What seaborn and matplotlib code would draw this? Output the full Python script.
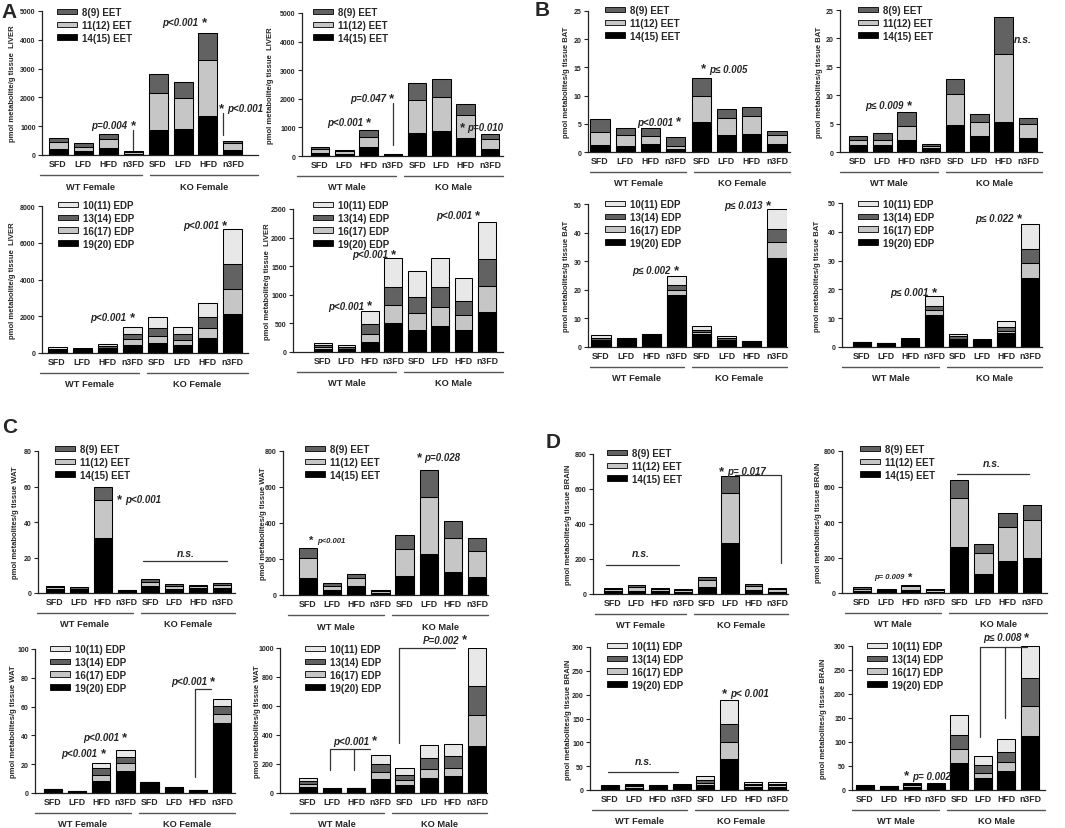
import numpy as np
import matplotlib
matplotlib.use("Agg")
import matplotlib.pyplot as plt
from matplotlib.patches import Patch
from matplotlib.lines import Line2D
import seaborn as sns

sns.set_style("ticks")
plt.rcParams["font.family"] = ["Liberation Sans", "DejaVu Sans"]
plt.rcParams["font.weight"] = "bold"

W, H = 1065, 829

# categories
diets = ["SFD", "LFD", "HFD", "n3FD"]
bar_keys = [f"{g} {d}" for g in ("WT", "KO") for d in diets]
tick_labels = diets * 2

eet_names = ["14(15) EET", "11(12) EET", "8(9) EET"]          # bottom -> top
edp_names = ["19(20) EDP", "16(17) EDP", "13(14) EDP", "10(11) EDP"]
eet_colors = ["#000000", "#c6c6c6", "#626262"]
edp_colors = ["#000000", "#c6c6c6", "#626262", "#e8e8e8"]

# values, order: WT SFD LFD HFD n3FD, KO SFD LFD HFD n3FD
# rows follow the stacking order (bottom -> top)
liver_f_eet = [[200, 150, 250, 40, 870, 890, 1350, 190],
               [250, 130, 300, 60, 1280, 1100, 1950, 210],
               [150, 120, 180, 30, 650, 530, 950, 100]]
liver_m_eet = [[110, 80, 300, 50, 820, 870, 620, 260],
               [120, 90, 380, 20, 1140, 1210, 800, 340],
               [70, 50, 220, 10, 590, 620, 410, 180]]
liver_f_edp = [[130, 120, 200, 450, 550, 450, 800, 2130],
               [50, 50, 80, 310, 400, 280, 550, 1370],
               [60, 60, 100, 280, 400, 310, 600, 1350],
               [60, 60, 110, 400, 600, 400, 750, 1910]]
liver_m_edp = [[50, 30, 180, 500, 385, 455, 385, 705],
               [30, 30, 140, 320, 305, 340, 255, 455],
               [40, 30, 165, 325, 280, 335, 255, 465],
               [30, 27, 225, 495, 445, 505, 390, 645]]

bat_f_eet = [[1.3, 1.05, 1.45, 0.6, 5.35, 3.0, 3.25, 1.5],
             [2.2, 2.05, 1.35, 0.45, 4.55, 3.0, 3.2, 1.5],
             [2.4, 1.2, 1.5, 1.65, 3.2, 1.55, 1.45, 0.65]]
bat_m_eet = [[1.3, 1.15, 2.05, 0.7, 4.75, 2.9, 5.3, 2.45],
             [0.75, 1.05, 2.45, 0.3, 5.5, 2.35, 11.95, 2.45],
             [0.7, 1.1, 2.6, 0.35, 2.65, 1.45, 6.45, 1.1]]
bat_f_edp = [[2.0, 2.8, 4.0, 18.3, 4.5, 2.2, 1.9, 31.2],
             [0.6, 0.1, 0.2, 1.8, 0.8, 0.4, 0.1, 5.6],
             [0.6, 0.1, 0.2, 1.7, 0.8, 0.5, 0.1, 4.5],
             [1.0, 0.1, 0.2, 2.9, 1.3, 0.7, 0.1, 7.1]]
bat_m_edp = [[1.6, 1.3, 2.2, 11.2, 2.3, 1.8, 4.8, 23.9],
             [0.05, 0.05, 0.3, 1.7, 0.6, 0.3, 0.9, 5.1],
             [0.05, 0.05, 0.3, 1.5, 0.8, 0.5, 1.3, 5.0],
             [0.05, 0.05, 0.3, 3.3, 0.9, 0.3, 2.2, 8.7]]

wat_f_eet = [[2.2, 1.7, 30.9, 1.6, 4.1, 2.5, 2.6, 2.9],
             [1.1, 0.8, 21.3, 0.2, 2.3, 1.4, 1.2, 1.4],
             [0.8, 0.7, 7.5, 0.1, 1.7, 1.2, 0.9, 1.1]]
wat_m_eet = [[95, 28, 50, 12, 108, 228, 130, 102],
             [113, 24, 45, 10, 150, 317, 187, 145],
             [52, 13, 22, 6, 74, 151, 93, 72]]
wat_f_edp = [[2.5, 1.3, 8.6, 15.5, 7.5, 3.7, 2.0, 48.5],
             [0.1, 0.1, 4.2, 5.1, 0.1, 0.1, 0.05, 6.5],
             [0.1, 0.05, 4.4, 4.7, 0.05, 0.05, 0.03, 5.1],
             [0.1, 0.05, 3.9, 4.4, 0.05, 0.05, 0.02, 5.3]]
wat_m_edp = [[39, 30, 33, 99, 53, 104, 115, 325],
             [23, 1, 1, 48, 37, 64, 58, 210],
             [23, 0.5, 0.5, 53, 34, 72, 80, 205],
             [16, 0.5, 0.5, 63, 46, 94, 88, 260]]

brain_f_eet = [[15, 20, 15, 12, 40, 292, 24, 13],
               [12, 19, 14, 10, 40, 285, 22, 13],
               [7, 10, 7, 6, 20, 98, 13, 6]]
brain_m_eet = [[13, 10, 19, 8, 260, 105, 182, 200],
               [12, 9, 18, 8, 274, 118, 191, 210],
               [7, 5, 10, 5, 105, 52, 78, 83]]
brain_f_edp = [[7.5, 5.0, 8.5, 6.0, 10.5, 64, 7, 7],
               [1.0, 2.5, 0.5, 2.5, 4.2, 36.5, 3, 3],
               [0.8, 2.5, 0.5, 2.5, 6.3, 37, 3.5, 3.5],
               [0.5, 1.9, 0.3, 1.6, 9.0, 50.5, 3.2, 3.2]]
brain_m_edp = [[8.5, 7.0, 7.0, 7.5, 56, 24, 39, 113],
               [0.5, 0.3, 2.5, 2.5, 29, 12, 19, 63],
               [0.5, 0.2, 3.0, 3.0, 30, 16, 22, 57],
               [0.3, 0.2, 2.2, 2.4, 41, 18, 27, 67]]

LE = "\u2264"

# layout in pixels: axis-left, group-line-left, group-mid, group-line-right,
# first bar, last bar, axis top, axis bottom, ylabel x, legend x, legend first row y
panels = [
    # ---- A (liver)
    dict(data=liver_f_eet, ylab="pmol metabolite/g tissue  LIVER", ymax=5000, step=1000, sex="Female",
         box=(42, 40, 146, 258, 58, 233, 12, 156, 12, 57, 14),
         notes=[("p", 3.0, 1050, "p=0.004", "L", 7), ("line", [3, 3], [180, 860]),
                ("p", 5.85, 4620, "p<0.001", "L", 7), ("line", [6.6, 6.6], [680, 1450]),
                ("p", 6.55, 1620, "p<0.001", "R", 7)]),
    dict(data=liver_m_eet, ylab="pmol metabolite/g tissue  LIVER", ymax=5000, step=1000, sex="Male",
         box=(302, 297, 400, 503, 320, 490, 14, 157, 270, 313, 14),
         notes=[("p", 2.0, 1200, "p<0.001", "L", 7), ("p", 2.95, 2020, "p=0.047", "L", 7),
                ("line", [3, 3], [380, 1840]), ("p", 5.85, 1000, "p=0.010", "R", 7)]),
    dict(data=liver_f_edp, ylab="pmol metabolite/g tissue  LIVER", ymax=8000, step=2000, sex="Female",
         box=(42, 40, 143, 248, 57, 232, 207, 354, 12, 58, 207),
         notes=[("p", 3.0, 1950, "p<0.001", "L", 7), ("p", 6.7, 6950, "p<0.001", "L", 7)]),
    dict(data=liver_m_edp, ylab="pmol metabolite/g tissue  LIVER", ymax=2500, step=500, sex="Male",
         box=(293, 297, 400, 503, 323, 487, 210, 353, 267, 313, 207),
         notes=[("p", 2.0, 810, "p<0.001", "L", 7), ("p", 3.0, 1713, "p<0.001", "L", 7),
                ("p", 6.6, 2398, "p<0.001", "L", 7)]),
    # ---- B (BAT)
    dict(data=bat_f_eet, ylab="pmol metabolites/g tissue BAT", ymax=25, step=5, sex="Female",
         box=(588, 590, 690, 790, 600, 777, 12, 153, 566, 605, 12),
         notes=[("p", 3.1, 5.4, "p<0.001", "L", 7), ("p", 4.1, 14.8, "p" + LE + " 0.005", "R", 7)]),
    dict(data=bat_m_eet, ylab="pmol metabolites/g tissue BAT", ymax=25, step=5, sex="Male",
         box=(840, 840, 942, 1042, 858, 1028, 11, 153, 819, 858, 12),
         notes=[("p", 2.1, 8.2, "p" + LE + " 0.009", "L", 7), ("ns", 6.8, 19.9)]),
    dict(data=bat_f_edp, ylab="pmol metabolites/g tissue BAT", ymax=50, step=10, sex="Female",
         box=(588, 590, 688, 787, 601, 777, 205, 348, 566, 605, 206),
         notes=[("p", 3.0, 27, "p" + LE + " 0.002", "L", 7), ("p", 6.65, 49.5, "p" + LE + " 0.013", "L", 7)]),
    dict(data=bat_m_edp, ylab="pmol metabolites/g tissue BAT", ymax=50, step=10, sex="Male",
         box=(842, 842, 943, 1042, 862, 1030, 204, 348, 817, 858, 206),
         notes=[("p", 3.0, 19.0, "p" + LE + " 0.001", "L", 7), ("p", 6.55, 44.7, "p" + LE + " 0.022", "L", 7)]),
    # ---- C (WAT)
    dict(data=wat_f_eet, ylab="pmol metabolites/g tissue WAT", ymax=80, step=20, sex="Female",
         box=(38, 37, 137, 235, 55, 222, 452, 594, 15, 55, 451),
         notes=[("p", 2.7, 53, "p<0.001", "R", 7), ("ns", 5.5, 22.8),
                ("line", [3.7, 7.2], [18.2, 18.2])]),
    dict(data=wat_m_eet, ylab="pmol metabolites/g tissue WAT", ymax=800, step=200, sex="Male",
         box=(283, 288, 388, 488, 308, 477, 452, 596, 263, 305, 451),
         notes=[("p", 0.14, 305, "p<0.001", "R", 5.5), ("p", 4.6, 765, "p=0.028", "R", 7)]),
    dict(data=wat_f_edp, ylab="pmol metabolites/g tissue WAT", ymax=100, step=20, sex="Female",
         box=(35, 35, 135, 235, 53, 222, 650, 794, 13, 50, 651),
         notes=[("p", 2.08, 27.6, "p<0.001", "L", 7), ("p", 2.96, 38.7, "p<0.001", "L", 7),
                ("p", 6.6, 78, "p<0.001", "L", 7),
                ("line", [5.9, 5.9, 6.53], [11, 72.4, 72.4])]),
    dict(data=wat_m_edp, ylab="pmol metabolites/g tissue WAT", ymax=1000, step=200, sex="Male",
         box=(280, 290, 388, 487, 308, 477, 649, 794, 257, 305, 651),
         notes=[("line", [0.9, 0.9, 2.57], [159, 304, 304]), ("line", [1.9, 1.9], [159, 304]),
                ("p", 2.75, 362, "p<0.001", "L", 7),
                ("line", [3.75, 3.75, 6.1], [343, 1000, 1000]),
                ("p", 6.5, 1058, "P=0.002", "L", 7)]),
    # ---- D (brain)
    dict(data=brain_f_eet, ylab="pmol metabolites/g tissue BRAIN", ymax=800, step=200, sex="Female",
         box=(593, 595, 690, 788, 613, 777, 455, 595, 568, 607, 455),
         notes=[("ns", 1.2, 237), ("line", [-0.3, 2.8], [167, 167]),
                ("p", 4.64, 700, "p= 0.017", "R", 7),
                ("line", [5.2, 7.15, 7.15], [679, 679, 180])]),
    dict(data=brain_m_eet, ylab="pmol metabolites/g tissue BRAIN", ymax=800, step=200, sex="Male",
         box=(842, 845, 945, 1047, 862, 1032, 452, 594, 818, 860, 451),
         notes=[("p", 2.0, 92, "p= 0.009", "L", 5.5), ("ns", 5.35, 734),
                ("line", [3.9, 6.86], [668, 668])]),
    dict(data=brain_f_edp, ylab="pmol metabolites/g tissue BRAIN", ymax=300, step=50, sex="Female",
         box=(590, 592, 691, 788, 610, 777, 648, 791, 568, 607, 648),
         notes=[("ns", 1.4, 60.7), ("line", [-0.07, 2.87], [38, 38]),
                ("p", 4.8, 203, "p< 0.001", "R", 7)]),
    dict(data=brain_m_edp, ylab="pmol metabolites/g tissue BRAIN", ymax=300, step=50, sex="Male",
         box=(852, 852, 943, 1045, 865, 1030, 647, 791, 823, 867, 648),
         notes=[("p", 1.77, 30, "p= 0.002", "R", 7),
                ("line", [4.88, 4.88, 6.86], [111, 298, 298]), ("line", [5.94, 5.94], [150, 298]),
                ("p", 6.86, 318, "p" + LE + " 0.008", "L", 7)]),
]

fig = plt.figure(figsize=(W / 100, H / 100), dpi=100)


def fx(px):
    return px / W


def fy(py):
    return 1 - py / H


for p in panels:
    axl, gl, mid, gr, x0, x7, top, bot, ylx, lgx, lgy = p["box"]
    ax = fig.add_axes([fx(axl), fy(bot), fx(gr - axl), (bot - top) / H])
    rows = np.array(p["data"], dtype=float)
    n = rows.shape[0]
    names = eet_names if n == 3 else edp_names
    colors = eet_colors if n == 3 else edp_colors
    cum = np.cumsum(rows, axis=0)

    # stacked bars: draw cumulative heights from the top layer down
    for lev in reversed(range(n)):
        sns.barplot(x=bar_keys, y=cum[lev], order=bar_keys, color=colors[lev],
                    saturation=1, edgecolor="black", linewidth=0.75, width=0.76,
                    errorbar=None, ax=ax)

    unit = (x7 - x0) / 7
    ax.set_xlim(-(x0 - axl) / unit, 7 + (gr - x7) / unit)
    ax.set_ylim(0, p["ymax"])
    ax.set_yticks(np.arange(0, p["ymax"] + p["step"] / 2, p["step"]))
    ax.set_xticks(range(8))
    ax.set_xticklabels(tick_labels, fontsize=6.3, fontweight="bold")
    ax.tick_params(axis="x", length=0, pad=3)
    ax.tick_params(axis="y", length=3, width=0.8, pad=1.5, labelsize=5.0)
    for lab in ax.get_yticklabels():
        lab.set_fontweight("bold")
    ax.set_xlabel("")
    ax.set_ylabel(p["ylab"], fontsize=5.5, fontweight="bold")
    # label anchor is its right edge once rotated; shift so its centre sits at ylx
    ax.yaxis.set_label_coords((ylx + 4 - axl) / (gr - axl), 0.5)
    sns.despine(ax=ax)
    for s in ("left", "bottom"):
        ax.spines[s].set_linewidth(0.9)
        ax.spines[s].set_color("#222222")

    # legend (top row first)
    handles = [Patch(facecolor=colors[i], edgecolor="black", linewidth=0.6) for i in reversed(range(n))]
    ax.legend(handles, [names[i] for i in reversed(range(n))], loc="upper left",
              bbox_to_anchor=(fx(lgx), fy(lgy - 6)), bbox_transform=fig.transFigure,
              frameon=False, borderpad=0, borderaxespad=0, handlelength=2.1,
              handleheight=0.55, labelspacing=0.3, handletextpad=0.5,
              prop=dict(size=7, weight="bold"))

    # group lines and labels under the axis
    for a, b, lab in ((gl, mid - 4, "WT " + p["sex"]), (mid + 4, gr, "KO " + p["sex"])):
        fig.add_artist(Line2D([fx(a), fx(b)], [fy(bot + 20)] * 2, transform=fig.transFigure,
                              color="#555555", linewidth=1.0))
        fig.text(fx((a + b) / 2), fy(bot + 31), lab, ha="center", va="center",
                 fontsize=6.7, fontweight="bold")

    # significance marks
    for note in p["notes"]:
        if note[0] == "line":
            ax.plot(note[1], note[2], color="#333333", linewidth=0.9, clip_on=False)
        elif note[0] == "ns":
            ax.text(note[1], note[2], "n.s.", ha="center", va="center", fontsize=7.5,
                    fontstyle="italic", fontweight="bold", clip_on=False)
        else:
            _, xs, y, txt, side, size = note
            ax.text(xs, y, "*", ha="center", va="center", fontsize=size + 2.5,
                    fontweight="bold", clip_on=False)
            off = -4 if side == "L" else 4
            ax.annotate(txt, (xs, y), xytext=(off, 0), textcoords="offset points",
                        ha="right" if side == "L" else "left", va="center",
                        fontsize=size, fontstyle="italic", fontweight="bold",
                        annotation_clip=False)

# panel letters
for lab, x, y in (("A", 1, 3), ("B", 535, 1), ("C", 2, 418), ("D", 546, 433)):
    fig.text(fx(x), fy(y), lab, ha="left", va="top", fontsize=15, fontweight="bold")

fig.savefig("out.png", dpi=100)
